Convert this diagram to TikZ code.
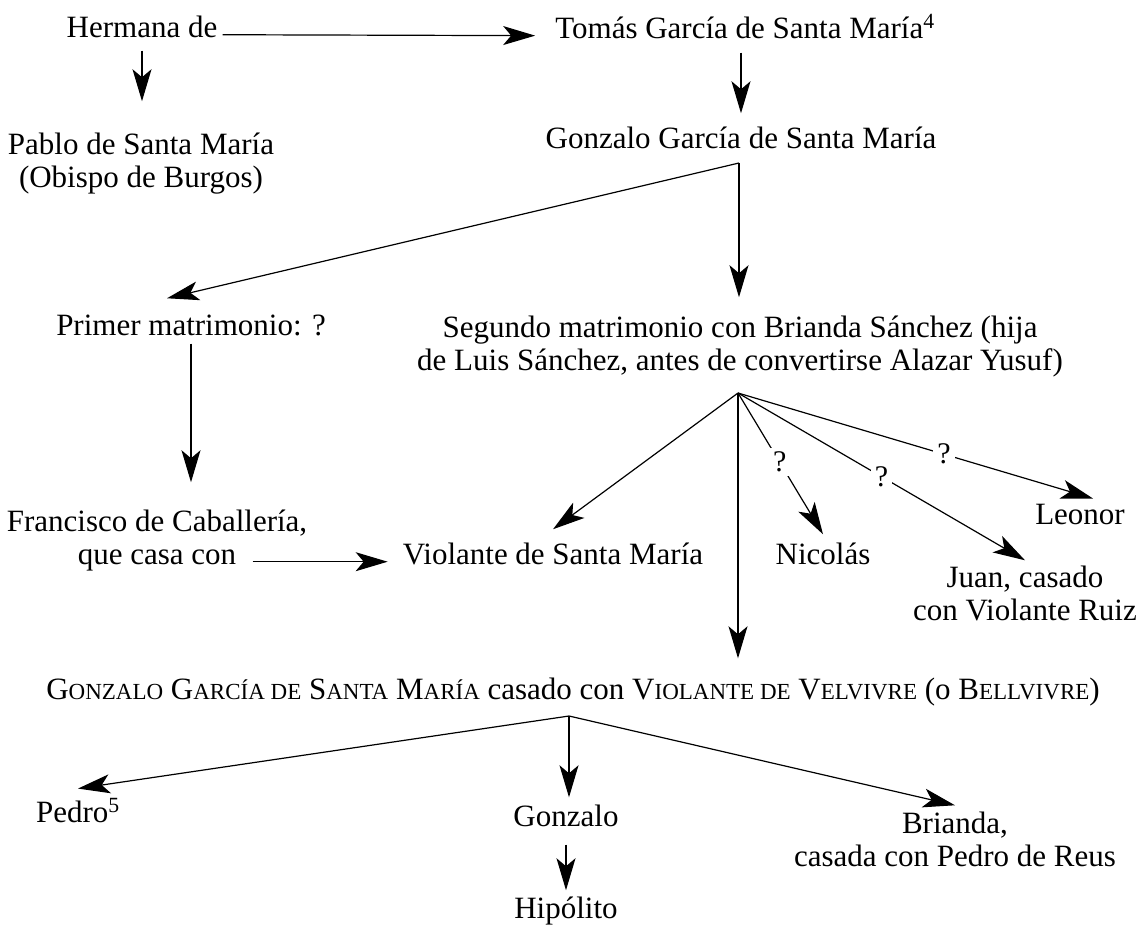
\documentclass[tikz,border=0pt]{standalone}
\usepackage{fontspec}
\setmainfont{Liberation Serif}
\usetikzlibrary{arrows.meta}
\newcommand{\smc}[1]{{\fontsize{23}{23}\selectfont #1}}

\begin{document}
\begin{tikzpicture}[x=1pt, y=-1pt,
  pnode/.style={inner sep=0pt, anchor=base, align=center,
                font=\fontsize{31}{33}\selectfont},
  qmark/.style={fill=white, inner sep=4pt, font=\fontsize{30}{30}\selectfont},
  parr/.style={-{Stealth[length=32pt, width=19pt, inset=8pt]}, line width=1.2pt}
]
\useasboundingbox (0,0) rectangle (1144,929);

% Top rows
\node[pnode] (herm)  at (142, 37)  {Hermana de};
\node[pnode] (tomas) at (745, 38)  {Tomás García de Santa María\textsuperscript{4}};
\node[pnode] (pablo) at (141, 187) {Pablo de Santa María\\(Obispo de Burgos)};
\node[pnode] (gonz)  at (741, 148) {Gonzalo García de Santa María};

% Marriages
\node[pnode] (primer)  at (191, 335) {Primer matrimonio: ?};
\node[pnode] (segundo) at (740, 370) {Segundo matrimonio con Brianda Sánchez (hija\\de Luis Sánchez, antes de convertirse Alazar Yusuf)};

% Children
\node[pnode] (fran)   at (157, 564)  {Francisco de Caballería,\\que casa con};
\node[pnode] (viol)   at (553, 564)  {Violante de Santa María};
\node[pnode] (nico)   at (823, 564)  {Nicolás};
\node[pnode] (juan)   at (1025, 620) {Juan, casado\\con Violante Ruiz};
\node[pnode] (leonor) at (1080, 524) {Leonor};

% Next generation
\node[pnode] (gonzdos) at (573, 699) {G\smc{ONZALO} G\smc{ARCÍA DE} S\smc{ANTA} M\smc{ARÍA} casado con V\smc{IOLANTE DE} V\smc{ELVIVRE} (o B\smc{ELLVIVRE})};
\node[pnode] (pedro)   at (78, 822)  {Pedro\textsuperscript{5}};
\node[pnode] (gonztres) at (566, 826) {Gonzalo};
\node[pnode] (brianda) at (955, 866) {Brianda,\\casada con Pedro de Reus};
\node[pnode] (hipo)    at (566, 918) {Hipólito};

% Fork points
\coordinate (gfork) at (739, 163);
\coordinate (sfork) at (738, 393);
\coordinate (bfork) at (569, 716);

% Arrows
\draw[parr, shorten <=5pt, shorten >=20pt] (herm.mid east) -- (tomas.mid west);
\draw[parr, shorten <=13pt, shorten >=31pt] (herm.south) -- (herm.south |- pablo.north);
\draw[parr, shorten <=14pt, shorten >=13pt] (gonz.north |- tomas.south) -- (gonz.north);
\draw[parr] (gfork) -- ([xshift=-24pt, yshift=16pt]primer.north);
\draw[parr, shorten >=18pt] (gfork) -- (gfork |- segundo.north);
\draw[parr, shorten <=8pt, shorten >=27pt] (primer.south) -- (primer.south |- fran.north);
\draw[parr] ([xshift=-150pt]viol.mid west) -- ([xshift=-15pt]viol.mid west);
\draw[parr] (sfork) -- ([yshift=13pt]viol.north);
\draw[parr, shorten >=19pt] (sfork) -- (sfork |- gonzdos.north);
\draw[parr] (sfork) -- node[qmark, pos=0.49] {?} ([yshift=8pt]nico.north);
\draw[parr] (sfork) -- node[qmark, pos=0.5] {?} ([yshift=5pt]juan.north);
\draw[parr] (sfork) -- node[qmark, pos=0.58] {?} ([xshift=13pt, yshift=5pt]leonor.north);
\draw[parr] (bfork) -- ([yshift=10pt]pedro.north);
\draw[parr, shorten >=7pt] (bfork) -- (bfork |- gonztres.north);
\draw[parr] (bfork) -- ([yshift=6pt]brianda.north);
\draw[parr, shorten <=18pt, shorten >=6pt] (gonztres.south) -- (gonztres.south |- hipo.north);
\end{tikzpicture}
\end{document}
